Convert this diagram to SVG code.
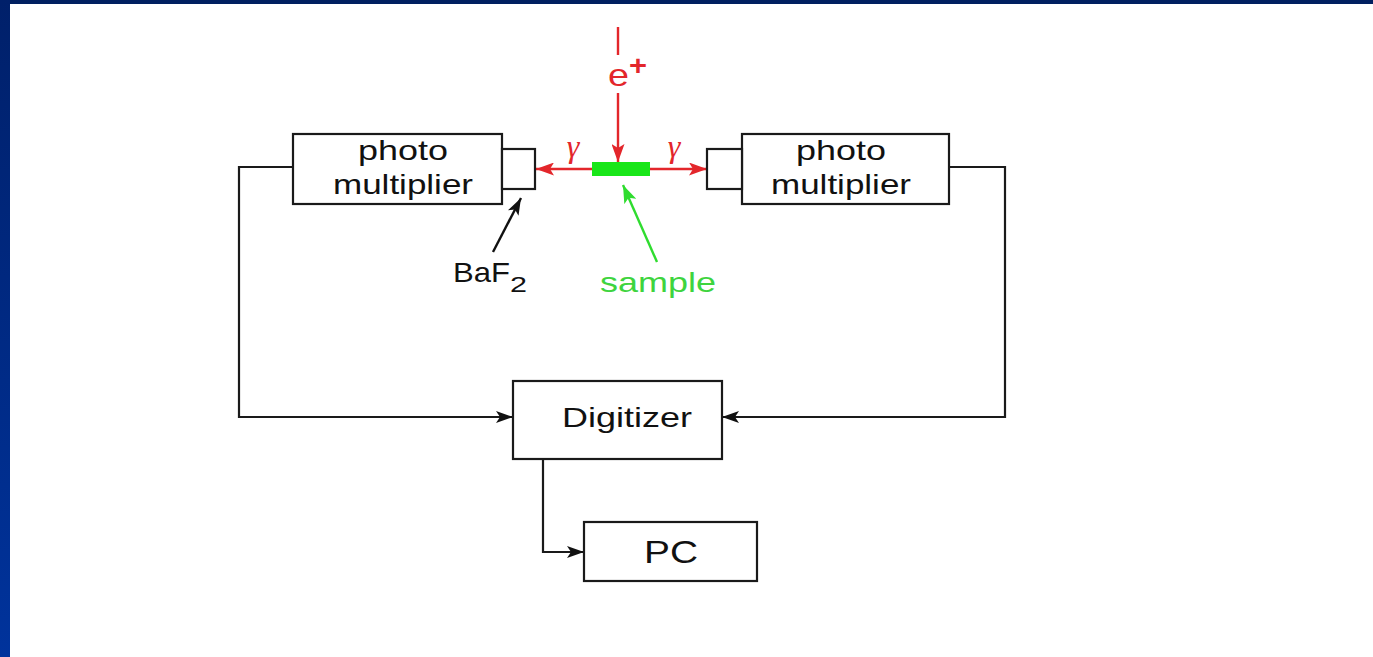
<svg xmlns="http://www.w3.org/2000/svg" width="1373" height="657" viewBox="0 0 1373 657">
<defs>
<linearGradient id="lg" x1="0" y1="0" x2="0" y2="1">
<stop offset="0" stop-color="#00206a"/>
<stop offset="1" stop-color="#00339c"/>
</linearGradient>
<marker id="ab" viewBox="0 0 17 12" refX="17" refY="6" markerWidth="17" markerHeight="12" markerUnits="userSpaceOnUse" orient="auto">
<path d="M0,0 L17,6 L0,12 L4,6 Z" fill="#111"/>
</marker>
<marker id="ar" viewBox="0 0 18 13" refX="18" refY="6.5" markerWidth="18" markerHeight="13" markerUnits="userSpaceOnUse" orient="auto">
<path d="M0,0 L18,6.5 L0,13 L4,6.5 Z" fill="#e3262b"/>
</marker>
<marker id="ag" viewBox="0 0 18 13" refX="18" refY="6.5" markerWidth="18" markerHeight="13" markerUnits="userSpaceOnUse" orient="auto">
<path d="M0,0 L18,6.5 L0,13 L4,6.5 Z" fill="#2fdc2f"/>
</marker>
</defs>
<style>
.box{fill:#fff;stroke:#1a1a1a;stroke-width:2.2}
.wire{fill:none;stroke:#1a1a1a;stroke-width:2.2}
.red{fill:none;stroke:#e3262b;stroke-width:2.4}
.t{font-family:"Liberation Sans",Arial,sans-serif;fill:#111}
</style>
<rect x="0" y="0" width="1373" height="657" fill="#fff"/>
<rect x="0" y="0" width="1373" height="4" fill="#002060"/>
<rect x="0" y="0" width="10" height="657" fill="url(#lg)"/>

<g id="connectors">
<polyline class="wire" points="293,167 239,167 239,417 513,417" marker-end="url(#ab)"/>
<polyline class="wire" points="949,167 1005,167 1005,417 722,417" marker-end="url(#ab)"/>
<polyline class="wire" points="543,459 543,552 584,552" marker-end="url(#ab)"/>
<line class="red" x1="618" y1="27" x2="618" y2="55"/>
<line class="red" x1="618" y1="93" x2="618" y2="162" marker-end="url(#ar)"/>
<line class="red" x1="592" y1="169" x2="536" y2="169" marker-end="url(#ar)"/>
<line class="red" x1="650" y1="169" x2="707" y2="169" marker-end="url(#ar)"/>
<line stroke="#111" stroke-width="2.4" x1="493" y1="252" x2="521" y2="198" marker-end="url(#ab)"/>
<line stroke="#2fdc2f" stroke-width="2.4" x1="657" y1="262" x2="623" y2="185" marker-end="url(#ag)"/>
</g>

<g id="pm-left">
<rect class="box" x="293" y="134" width="209" height="70"/>
<text class="t" x="403" y="160" font-size="28" text-anchor="middle" textLength="90" lengthAdjust="spacingAndGlyphs">photo</text>
<text class="t" x="403" y="194" font-size="28" text-anchor="middle" textLength="140" lengthAdjust="spacingAndGlyphs">multiplier</text>
</g>
<g id="baf2-left">
<rect class="box" x="502" y="149" width="33" height="40"/>
</g>
<g id="pm-right">
<rect class="box" x="742" y="134" width="207" height="70"/>
<text class="t" x="841" y="160" font-size="28" text-anchor="middle" textLength="90" lengthAdjust="spacingAndGlyphs">photo</text>
<text class="t" x="841" y="194" font-size="28" text-anchor="middle" textLength="140" lengthAdjust="spacingAndGlyphs">multiplier</text>
</g>
<g id="baf2-right">
<rect class="box" x="707" y="149" width="35" height="40"/>
</g>
<g id="sample">
<rect x="592" y="162" width="58" height="14" fill="#19e619"/>
<text x="658" y="292" font-family="'Liberation Sans',Arial,sans-serif" font-size="28" fill="#3ed43e" text-anchor="middle" textLength="116" lengthAdjust="spacingAndGlyphs">sample</text>
</g>
<g id="positron">
<text x="608" y="86" font-family="'Liberation Sans',Arial,sans-serif" font-size="32" fill="#e3262b" textLength="21" lengthAdjust="spacingAndGlyphs">e</text>
<text x="629" y="75" font-family="'Liberation Sans',Arial,sans-serif" font-size="28" fill="#e3262b" textLength="18" lengthAdjust="spacingAndGlyphs" font-weight="bold">+</text>
</g>
<g id="gamma-labels">
<text x="573" y="157" font-family="'Liberation Serif','Times New Roman',serif" font-size="32" fill="#e3262b" text-anchor="middle" font-style="italic">γ</text>
<text x="674" y="157" font-family="'Liberation Serif','Times New Roman',serif" font-size="32" fill="#e3262b" text-anchor="middle" font-style="italic">γ</text>
</g>
<g id="baf2-label">
<text class="t" x="453" y="282" font-size="28" textLength="57" lengthAdjust="spacingAndGlyphs">BaF</text>
<text class="t" x="510" y="292" font-size="22" textLength="17" lengthAdjust="spacingAndGlyphs">2</text>
</g>
<g id="digitizer">
<rect class="box" x="513" y="381" width="209" height="78"/>
<text class="t" x="627" y="427" font-size="28" text-anchor="middle" textLength="130" lengthAdjust="spacingAndGlyphs">Digitizer</text>
</g>
<g id="pc">
<rect class="box" x="584" y="522" width="173" height="59"/>
<text class="t" x="671" y="563" font-size="32" text-anchor="middle" textLength="54" lengthAdjust="spacingAndGlyphs">PC</text>
</g>
</svg>
